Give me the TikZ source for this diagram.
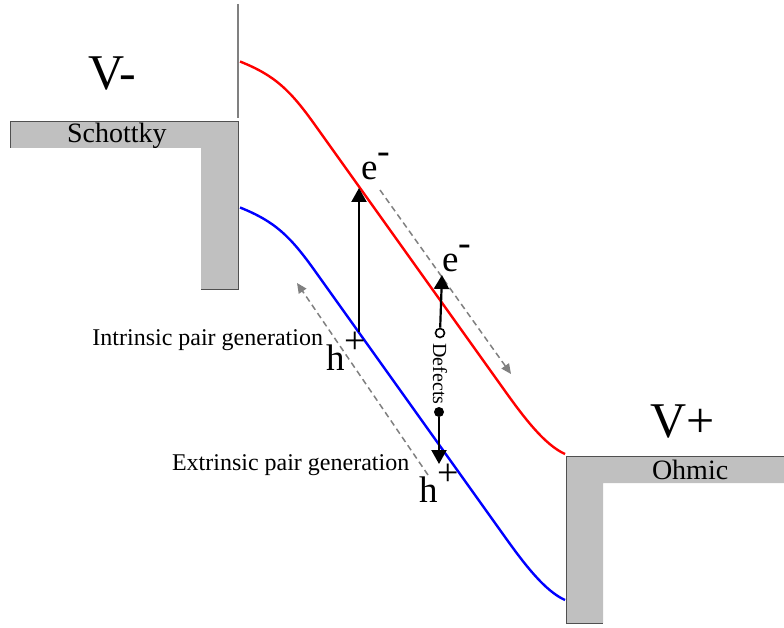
\documentclass[tikz,border=0pt]{standalone}
\usepackage{fontspec}
\setmainfont{Liberation Serif}
\usetikzlibrary{arrows.meta}
\definecolor{contactgray}{RGB}{192,192,192}
\definecolor{edgegray}{RGB}{80,80,80}
\definecolor{pathgray}{RGB}{128,128,128}
\newcommand{\carrier}[2]{#1\raisebox{0.45em}{\fontsize{38}{38}\selectfont #2}}
\begin{document}
\begin{tikzpicture}[x=1pt,y=-1pt,
  label text/.style={inner sep=0pt,outer sep=0pt,anchor=base west},
  band/.style={line width=2.4pt},
  carrier arrow/.style={line width=2.2pt,-{Triangle[width=15pt,length=14pt]}},
  drift arrow/.style={draw=pathgray,line width=1.5pt,dash pattern=on 6pt off 4pt,-{Triangle[width=9pt,length=10pt]}},
  contact/.style={fill=contactgray,draw=none}]
\path[use as bounding box] (0,0) rectangle (784,628);
\path[fill=white,draw=none] (0,0) rectangle (784,628);
% contacts
\path[contact] (10,122) -- (238,122) -- (238,289) -- (201,289) -- (201,148) -- (10,148) -- cycle;
\draw[edgegray,line width=1pt] (10,148) -- (10,122) -- (238,122) -- (238,289) -- (201,289);
\draw[pathgray,line width=1.5pt] (238,4) -- (238,118);
\path[contact] (566,456) -- (784,456) -- (784,483) -- (603,483) -- (603,623) -- (566,623) -- cycle;
\draw[edgegray,line width=1pt] (784,456) -- (566,456) -- (566,623) -- (603,623);
\node[label text,font=\fontsize{50}{60}\selectfont] (vminus) at (88,90) {V-};
\node[label text,font=\fontsize{28}{34}\selectfont] (schottky) at (67,143) {Schottky};
\node[label text,font=\fontsize{50}{60}\selectfont] (vplus) at (650,437) {V+};
\node[label text,font=\fontsize{28}{34}\selectfont] (ohmic) at (652,479) {Ohmic};
% bands
\draw[band,red] (240,61.5) .. controls (275,75.5) and (290,90) .. (315,125) -- (505,391) .. controls (525,419) and (545,445) .. (565,454);
\draw[band,blue] (240,207.5) .. controls (275,221.5) and (290,236) .. (315,271) -- (505,537) .. controls (525,565) and (545,591) .. (565,600);
% drift directions
\coordinate (drift-e-start) at (380,190);
\coordinate (drift-e-end) at (511,374);
\coordinate (drift-h-start) at (428,475);
\coordinate (drift-h-end) at (297,283);
\draw[drift arrow] (drift-e-start) -- (drift-e-end);
\draw[drift arrow] (drift-h-start) -- (drift-h-end);
% intrinsic generation
\coordinate (intr-h) at (359,332);
\coordinate (intr-e) at (359,188);
\draw[carrier arrow] (intr-h) -- (intr-e);
\node[label text,font=\fontsize{37}{44}\selectfont] (intr-e-label) at (361,180) {\carrier{e}{-}};
\node[label text,font=\fontsize{37}{44}\selectfont] (intr-h-label) at (326,370) {\carrier{h}{+}};
\node[inner sep=0pt,outer sep=0pt,anchor=base east,font=\fontsize{24}{29}\selectfont] (intrinsic) at (323,345) {Intrinsic pair generation};
% extrinsic generation
\node[circle,draw,line width=1.6pt,fill=white,inner sep=0pt,minimum size=9pt] (trap-e) at (440,333) {};
\node[circle,fill,inner sep=0pt,minimum size=10pt] (trap-h) at (439,412) {};
\node[inner sep=0pt,outer sep=0pt,rotate=-90,font=\fontsize{20}{24}\selectfont] (defects) at (440,374) {Defects};
\coordinate (extr-e) at (442,275);
\coordinate (extr-h) at (439,464);
\draw[carrier arrow] (trap-e) -- (extr-e);
\draw[carrier arrow] (trap-h) -- (extr-h);
\node[label text,font=\fontsize{37}{44}\selectfont] (extr-e-label) at (442,272) {\carrier{e}{-}};
\node[label text,font=\fontsize{37}{44}\selectfont] (extr-h-label) at (419,502) {\carrier{h}{+}};
\node[label text,font=\fontsize{24}{29}\selectfont] (extrinsic) at (172,470) {Extrinsic pair generation};
\end{tikzpicture}
\end{document}
